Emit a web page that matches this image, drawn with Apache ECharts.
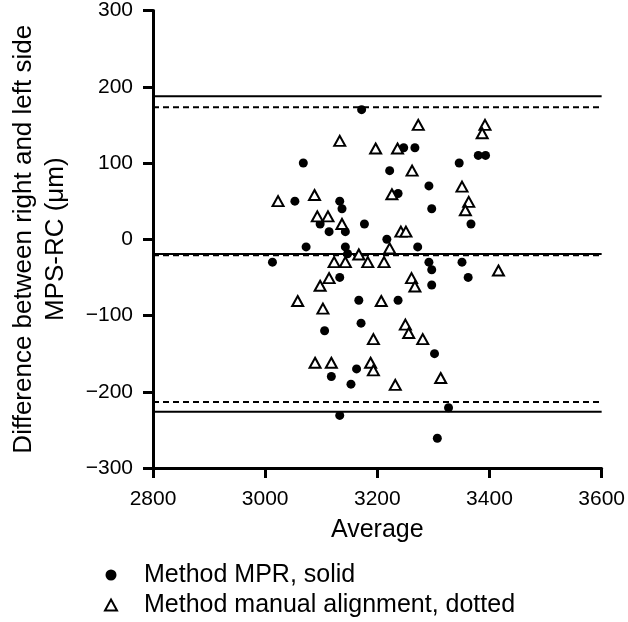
<!DOCTYPE html>
<html>
<head>
<meta charset="utf-8">
<script src="https://cdn.jsdelivr.net/npm/echarts@6/dist/echarts.min.js"></script>
<style>
html,body{margin:0;padding:0;background:#fff;}
#chart{width:628px;height:622px;}
</style>
</head>
<body>
<div id="chart"></div>
<script>
// Method MPR (solid circles)
const mprX = [3172,3247,3267,3068,3222,3292,3053,3133,3137,3237,3297,3098,3114,3143,3177,3217,3073,3143,3272,3013,3147,3292,3297,3133,3297,3167,3237,3106,3171,3302,3163,3118,3153,3133,3307,3367,3351,3362,3327,3346,3380,3393];
const mprY = [170,120,120,100,90,70,50,50,40,60,40,20,10,10,20,0,-10,-10,-10,-30,-19,-30,-40,-50,-60,-80,-80,-120,-110,-150,-170,-180,-190,-231,-261,20,-30,-50,-221,100,110,110];
// Method manual alignment (open triangles)
const manX = [3273,3133,3197,3236,3262,3023,3088,3226,3093,3112,3137,3242,3251,3222,3167,3123,3143,3183,3212,3114,3098,3261,3267,3058,3207,3103,3250,3256,3193,3281,3089,3118,3188,3193,3232,3313,3416,3392,3387,3351,3363,3357];
const manY = [150,129,119,119,90,50,58,59,30,30,20,10,10,-12,-20,-30,-30,-30,-30,-51,-61,-51,-62,-81,-81,-91,-112,-123,-131,-131,-162,-162,-162,-172,-191,-182,-41,150,139,69,49,38];
// Bias and limits of agreement
const solidLevels = [187.5, -19.3, -226.3];   // MPR
const dottedLevels = [173, -21, -213.6];     // manual alignment
const levelXRange = [2800, 3600];
const xTicks = [2800, 3600, 200];
const yTicks = [-300, 300, 100];
const seriesNames = ['Method MPR, solid', 'Method manual alignment, dotted'];
const xName = 'Average';
const yName = 'Difference between right and left side\nMPS-RC (\u03bcm)';

const FONT = 'Liberation Sans, Arial, Helvetica, sans-serif';
const zip = (xs, ys) => xs.map((x, i) => [x, ys[i]]);

const levelSeries = [];
solidLevels.forEach(v => levelSeries.push({
  type: 'line', data: levelXRange.map(x => [x, v]), symbol: 'none', clip: false,
  silent: true, lineStyle: {color: '#000', width: 2, type: 'solid'}, z: 1
}));
dottedLevels.forEach(v => levelSeries.push({
  type: 'line', data: levelXRange.map(x => [x, v]), symbol: 'none', clip: false,
  silent: true, lineStyle: {color: '#000', width: 2, type: [6, 4]}, z: 1
}));

const chart = echarts.init(document.getElementById('chart'), null, {renderer: 'canvas'});
chart.setOption({
  animation: false,
  backgroundColor: '#fff',
  grid: {left: 142.4, right: 24.3, top: 10, bottom: 154, containLabel: false},
  xAxis: {
    type: 'value', min: xTicks[0], max: xTicks[1], interval: xTicks[2],
    name: xName, nameLocation: 'middle', nameGap: 50,
    nameTextStyle: {fontFamily: FONT, fontSize: 25, color: '#000'},
    axisLine: {show: true, onZero: false, lineStyle: {color: '#000', width: 3}},
    axisTick: {show: true, length: 10, lineStyle: {color: '#000', width: 3}},
    axisLabel: {fontFamily: FONT, fontSize: 21, color: '#000', margin: 21,
      formatter: v => String(v)},
    splitLine: {show: false}
  },
  yAxis: {
    type: 'value', min: yTicks[0], max: yTicks[1], interval: yTicks[2],
    name: yName, nameLocation: 'middle', nameGap: 81,
    nameTextStyle: {fontFamily: FONT, fontSize: 26, color: '#000', lineHeight: 32},
    axisLine: {show: true, onZero: false, lineStyle: {color: '#000', width: 3}},
    axisTick: {show: true, length: 10, lineStyle: {color: '#000', width: 3}},
    axisLabel: {fontFamily: FONT, fontSize: 21, color: '#000', margin: 20,
      formatter: v => String(v).replace('-', '\u2212')},
    splitLine: {show: false}
  },
  legend: {
    orient: 'vertical', left: 104, top: 562.5, itemGap: 5, padding: 0,
    itemWidth: 12, itemHeight: 11,
    textStyle: {fontFamily: FONT, fontSize: 25, color: '#000', lineHeight: 25, padding: [0, 0, 0, 22]},
    data: [
      {name: seriesNames[0], icon: 'circle', itemStyle: {color: '#000'}},
      {name: seriesNames[1], icon: 'triangle', itemStyle: {color: '#fff', borderColor: '#000', borderWidth: 2}}
    ],
    selectedMode: false
  },
  series: levelSeries.concat([
    {
      name: seriesNames[0], type: 'scatter', data: zip(mprX, mprY),
      symbol: 'circle', symbolSize: 9, itemStyle: {color: '#000', opacity: 1}, z: 3
    },
    {
      name: seriesNames[1], type: 'scatter', data: zip(manX, manY),
      symbol: 'triangle', symbolSize: [11, 10],
      itemStyle: {color: '#fff', borderColor: '#000', borderWidth: 2, opacity: 1}, z: 4
    }
  ])
});
</script>
</body>
</html>
